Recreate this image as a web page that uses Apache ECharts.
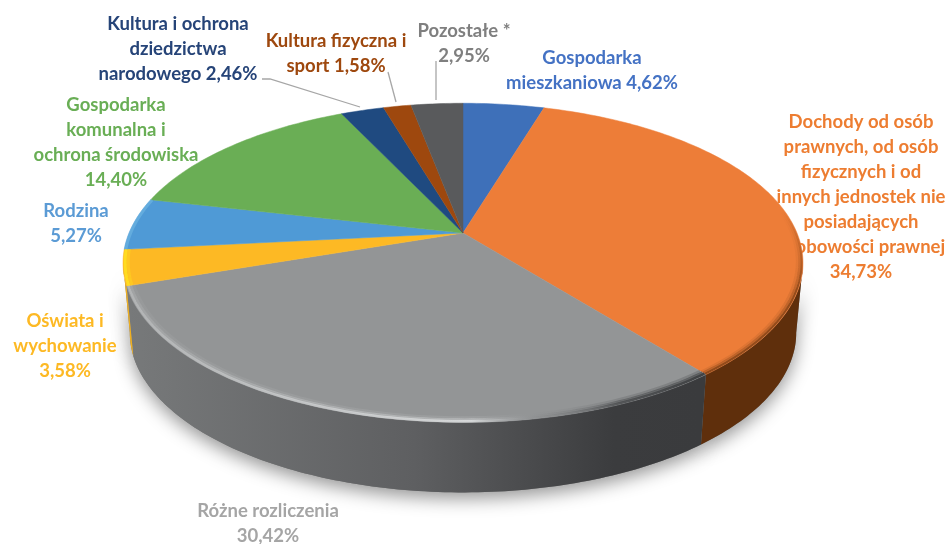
<!DOCTYPE html>
<html>
<head>
<meta charset="utf-8">
<script src="https://cdn.jsdelivr.net/npm/echarts@6/dist/echarts.min.js"></script>
<style>
html, body { margin: 0; padding: 0; background: #fff; }
#main { width: 949px; height: 544px; }
</style>
</head>
<body>
<div id="main"></div>
<script>
// udzialy w procentach, od gory zgodnie z ruchem wskazowek
var values = [4.62, 34.73, 30.42, 3.58, 5.27, 14.40, 2.46, 1.58, 2.95];
var names = [
	['Gospodarka', 'mieszkaniowa '],
	['Dochody od osób', 'prawnych, od osób', 'fizycznych i od', 'innych jednostek nie', 'posiadających', 'osobowości prawnej', ''],
	['Różne rozliczenia', ''],
	['Oświata i', 'wychowanie', ''],
	['Rodzina', ''],
	['Gospodarka', 'komunalna i', 'ochrona środowiska', ''],
	['Kultura i ochrona', 'dziedzictwa', 'narodowego '],
	['Kultura fizyczna i', 'sport '],
	['Pozostałe *', '']
];
var colors = ['#3e70b9', '#ed7d38', '#939596', '#fdb924', '#4f9ad6', '#6aae55', '#1f4a80', '#9e480e', '#595a5c'];
var textColors = ['#4472c4', '#ed7d31', '#a5a5a5', '#fdb924', '#5b9bd5', '#69ae55', '#264478', '#9e480e', '#7f7f7f'];
var wallColors = ['#2a4c80', '#5f2f0c', '#666', '#f0b020', '#356a94', '#4a7a36', '#142f58', '#6a3009', '#3b3b3d'];
// srodek bloku tekstu: x, y pierwszej linii
var labelPos = [[592, 58], [861, 122], [268, 511], [65, 321], [76, 211], [116, 105], [178, 24], [336, 41], [464, 31]];

var cx = 463, cy = 233, ra = 334, rb = 154, persp = 0.187, depth = 70, bottomScale = 0.98;
var wallFrom = Math.acos(-persp), wallTo = Math.PI * 2 - wallFrom;

var total = values.reduce(function (a, b) { return a + b; }, 0);
var starts = [];
values.reduce(function (acc, v, i) { starts[i] = acc; return acc + v; }, 0);

// punkt na tarczy -> ekran (tarcza widziana w perspektywie)
function project(angle, r, dy, sx) {
	var u = Math.sin(angle) * r, v = -Math.cos(angle) * r;
	var s = 1 / (1 - persp * v);
	return [cx + ra * (sx || 1) * u * s, cy + rb * v * s + (dy || 0)];
}
function arc(a0, a1, r, dy, sx) {
	var pts = [], n = Math.max(2, Math.ceil((a1 - a0) * 60));
	for (var i = 0; i <= n; i++) {
		pts.push(project(a0 + (a1 - a0) * i / n, r, dy, sx));
	}
	return pts;
}
function sliceAngles(i, v) {
	var a0 = starts[i] / total * Math.PI * 2;
	return [a0, a0 + v / total * Math.PI * 2];
}
function wallPoints(i, v) {
	var a = sliceAngles(i, v);
	var a0 = Math.max(a[0], wallFrom), a1 = Math.min(a[1], wallTo);
	if (a1 <= a0) {
		return null;
	}
	return arc(a0, a1, 1, 0).concat(arc(a0, a1, 1, depth, bottomScale).reverse());
}

function renderShadow(params, api) {
	var pts = wallPoints(params.dataIndex, api.value(0));
	if (!pts) {
		return { type: 'group', children: [] };
	}
	return {
		type: 'polygon',
		shape: { points: pts },
		style: { fill: '#777', shadowBlur: 18, shadowColor: 'rgba(0,0,0,0.42)', shadowOffsetY: 6 }
	};
}

function renderWall(params, api) {
	var i = params.dataIndex;
	var pts = wallPoints(i, api.value(0));
	if (!pts) {
		return { type: 'group', children: [] };
	}
	var fill = wallColors[i];
	if (i === 2) {
		fill = {
			type: 'linear', global: true, x: 130, y: 0, x2: 700, y2: 0,
			colorStops: [
				{ offset: 0, color: '#77797a' },
				{ offset: 0.5, color: '#5e5f61' },
				{ offset: 0.85, color: '#3b3c3e' },
				{ offset: 1, color: '#3a3b3d' }
			]
		};
	}
	return {
		type: 'polygon',
		shape: { points: pts },
		style: { fill: fill }
	};
}

function renderTop(params, api) {
	var i = params.dataIndex;
	var a = sliceAngles(i, api.value(0));
	var pts = [[cx, cy]].concat(arc(a[0], a[1], 1, 0));
	return {
		type: 'polygon',
		shape: { points: pts },
		style: { fill: colors[i], stroke: colors[i], lineWidth: 0.5 }
	};
}

function grayRim(light, dark) {
	return {
		type: 'linear', global: true, x: 130, y: 0, x2: 700, y2: 0,
		colorStops: [
			{ offset: 0, color: 'rgba(195,197,198,' + light * 0.75 + ')' },
			{ offset: 0.6, color: 'rgba(222,224,225,' + light + ')' },
			{ offset: 0.72, color: 'rgba(130,132,134,' + dark * 0.3 + ')' },
			{ offset: 0.86, color: 'rgba(70,72,74,' + dark * 0.85 + ')' },
			{ offset: 1, color: 'rgba(60,62,64,' + dark + ')' }
		]
	};
}
function orangeRim(alpha) {
	return {
		type: 'linear', global: true, x: 0, y: 210, x2: 0, y2: 290,
		colorStops: [
			{ offset: 0, color: 'rgba(120,60,15,0)' },
			{ offset: 1, color: 'rgba(110,55,15,' + alpha + ')' }
		]
	};
}

// jasna / ciemna krawedz na brzegu frontu
function renderRim(params, api) {
	var i = params.dataIndex;
	var a = sliceAngles(i, api.value(0));
	var bands = [];
	if (i === 1) {
		bands = [[0.996, orangeRim(0.7), 2], [0.99, orangeRim(0.35), 2.5], [0.983, orangeRim(0.12), 2.5]];
	} else if (i === 2) {
		bands = [[0.995, grayRim(0.85, 0.95), 2.5], [0.988, grayRim(0.4, 0.6), 2.5], [0.98, grayRim(0.12, 0.25), 3]];
	} else if (i === 3) {
		bands = [[0.994, '#ffdc20', 3], [0.985, 'rgba(255,215,30,0.5)', 3]];
	} else if (i === 4) {
		bands = [[0.995, 'rgba(120,190,230,0.5)', 3]];
	}
	return {
		type: 'group',
		children: bands.map(function (b) {
			return {
				type: 'polyline',
				shape: { points: arc(a[0], a[1], b[0], 0) },
				style: { fill: null, stroke: b[1], lineWidth: b[2] }
			};
		})
	};
}

function pct(v) {
	return v.toFixed(2).replace('.', ',') + '%';
}

var graphics = [];
names.forEach(function (lines, i) {
	lines.forEach(function (line, k) {
		var text = k === lines.length - 1 ? line + pct(values[i]) : line;
		graphics.push({
			type: 'text',
			x: labelPos[i][0],
			y: labelPos[i][1] + k * 25,
			z: i === 1 ? 1 : 10,
			style: {
				text: text,
				fill: textColors[i],
				font: 'bold 18.5px Lato',
				textAlign: 'center',
				textVerticalAlign: 'middle'
			}
		});
	});
});
// linie odniesienia
[
	[[262, 79], [270, 79], [360, 107]],
	[[388, 72], [396, 102]],
	[[436, 61], [436, 100]]
].forEach(function (p) {
	graphics.push({
		type: 'polyline',
		z: 10,
		shape: { points: p },
		style: { fill: null, stroke: '#a6a6a6', lineWidth: 1.3 }
	});
});

var myChart = echarts.init(document.getElementById('main'));
var option = {
	backgroundColor: '#fff',
	animation: false,
	graphic: graphics,
	series: [
		{ type: 'custom', coordinateSystem: 'none', z: 2, data: values, renderItem: renderShadow, silent: true },
		{ type: 'custom', coordinateSystem: 'none', z: 3, data: values, renderItem: renderWall, silent: true },
		{ type: 'custom', coordinateSystem: 'none', z: 4, data: values, renderItem: renderTop, silent: true },
		{ type: 'custom', coordinateSystem: 'none', z: 5, data: values, renderItem: renderRim, silent: true }
	]
};
myChart.setOption(option, true);
</script>
</body>
</html>
